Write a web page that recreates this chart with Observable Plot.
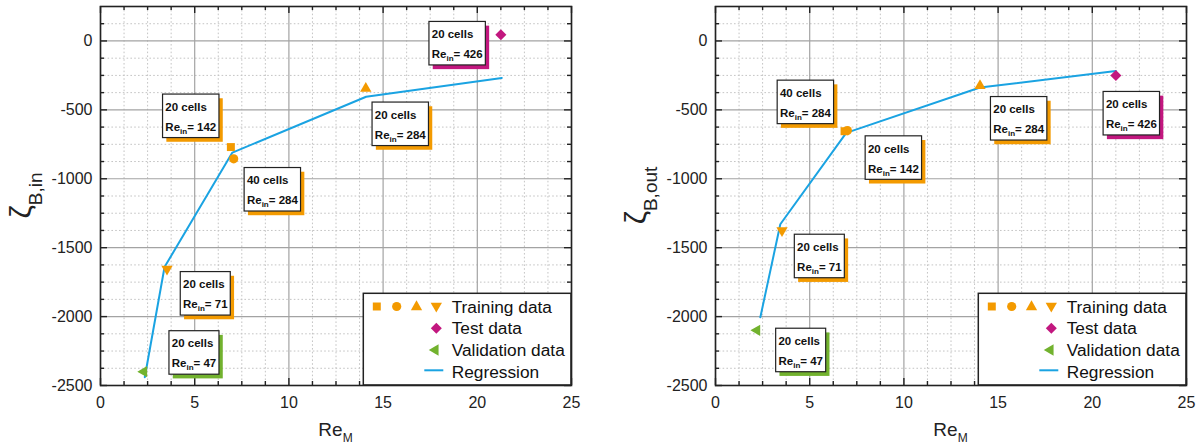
<!DOCTYPE html>
<html><head><meta charset="utf-8">
<script src="https://cdn.jsdelivr.net/npm/d3@7"></script>
<script src="https://cdn.jsdelivr.net/npm/@observablehq/plot@0.6"></script>
<style>
html,body{margin:0;padding:0;background:#fff;}
#wrap{display:flex;width:1203px;height:446px;overflow:hidden;}
#wrap svg{display:block;flex:none;}
</style></head><body><div id="wrap"></div>
<script>
// ---------- data ----------
const xTicks = [0, 5, 10, 15, 20, 25];
const yTicks = [-2500, -2000, -1500, -1000, -500, 0];
const legendLabels = ["Training data", "Test data", "Validation data", "Regression"];
const trainShape = ["square", "circle", "up", "down"];

// zeta_B,in
const trainReM_in = [6.92, 7.07, 14.08, 3.53];
const trainZeta_in = [-770, -855, -345, -1655];
const testReM_in = [21.25];
const testZeta_in = [45];
const validReM_in = [2.3];
const validZeta_in = [-2400];
const regReM_in = [2.35, 3.4, 7.0, 14.1, 21.3];
const regZeta_in = [-2440, -1640, -810, -405, -268];
const noteCells_in = [20, 40, 20, 20, 20, 20];
const noteRe_in = [142, 284, 71, 47, 284, 426];
const noteKind_in = ["train", "train", "train", "valid", "train", "test"];
const noteReM_in = [3.32, 7.65, 4.26, 3.66, 14.44, 17.46];
const noteZeta_in = [-389, -922, -1677, -2106, -447, 138];

// zeta_B,out
const trainReM_out = [6.85, 7.0, 14.04, 3.53];
const trainZeta_out = [-655, -650, -325, -1375];
const testReM_out = [21.25];
const testZeta_out = [-250];
const validReM_out = [2.2];
const validZeta_out = [-2100];
const regReM_out = [2.38, 3.44, 6.94, 14.04, 21.25];
const regZeta_out = [-2005, -1330, -667, -338, -218];
const noteCells_out = [40, 20, 20, 20, 20, 20];
const noteRe_out = [284, 142, 71, 47, 284, 426];
const noteKind_out = ["train", "train", "train", "valid", "train", "test"];
const noteReM_out = [3.30, 7.97, 4.21, 3.22, 14.62, 20.6];
const noteZeta_out = [-288, -692, -1406, -2088, -407, -370];

// ---------- styles ----------
const COL = {train: "#f39a00", test: "#c2177f", valid: "#72b22e", reg: "#1aa3e2"};
const FONT = "'Liberation Sans', Arial, sans-serif";
const sqrt3 = Math.sqrt(3);
const SYM = {
  square: d3.symbolSquare,
  circle: d3.symbolCircle,
  up: d3.symbolTriangle,
  down: {draw(c, s) { const y = -Math.sqrt(s / (sqrt3 * 3)); c.moveTo(0, -2 * y); c.lineTo(-sqrt3 * y, y); c.lineTo(sqrt3 * y, y); c.closePath(); }},
  left: {draw(c, s) { const y = -Math.sqrt(s / (sqrt3 * 3)); c.moveTo(2 * y, 0); c.lineTo(-y, sqrt3 * y); c.lineTo(-y, -sqrt3 * y); c.closePath(); }},
  diamond: {draw(c, s) { const d = Math.sqrt(s / 2); c.moveTo(0, -d); c.lineTo(d, 0); c.lineTo(0, d); c.lineTo(-d, 0); c.closePath(); }}
};
const RAD = {square: 4.5, circle: 4.6, up: 4.2, down: 4.2, left: 4.2, diamond: 4.4};

const measureCtx = document.createElement("canvas").getContext("2d");
function tw(text, size) { measureCtx.font = `bold ${size}px 'Liberation Sans'`; return measureCtx.measureText(text).width; }

function notesMark(xs, ys, cells, res, kinds) {
  return (index, scales) => {
    const g = d3.create("svg:g").attr("font-family", FONT).attr("font-weight", "bold")
      .attr("fill", "#111").attr("text-anchor", "start");
    xs.forEach((xv, i) => {
      const px = scales.x(xv), py = scales.y(ys[i]);
      const l1 = `${cells[i]} cells`, l2b = `= ${res[i]}`;
      const w = Math.max(tw(l1, 11.5), tw("Re", 11.5) + tw("in", 8) + tw(l2b, 11.5)) + 5.5;
      const h = 43.5;
      g.append("rect").attr("x", px + 3.8).attr("y", py + 4.2).attr("width", w).attr("height", h).attr("fill", COL[kinds[i]]);
      g.append("rect").attr("x", px).attr("y", py).attr("width", w).attr("height", h)
        .attr("fill", "#fff").attr("stroke", "#222").attr("stroke-width", 1.2);
      g.append("text").attr("x", px + 2.8).attr("y", py + 16.7).attr("font-size", 11.5).text(l1);
      const t = g.append("text").attr("x", px + 2.8).attr("y", py + 36.7).attr("font-size", 11.5);
      t.append("tspan").text("Re");
      t.append("tspan").attr("font-size", 8).attr("dy", 3).text("in");
      t.append("tspan").attr("dy", -3).text(l2b);
    });
    return g.node();
  };
}

function legendMark(index, scales, values, dim) {
  const {width, height, marginRight, marginBottom} = dim;
  const lw = 207.7, lh = 91.7;
  const x0 = width - marginRight - lw, y0 = height - marginBottom - lh;
  const g = d3.create("svg:g").attr("transform", `translate(${x0},${y0})`).attr("text-anchor", "start");
  g.append("rect").attr("width", lw).attr("height", lh).attr("fill", "#fff").attr("stroke", "#222").attr("stroke-width", 1.5);
  const sym = (type, x, y, fill) => g.append("path")
    .attr("d", d3.symbol(SYM[type], RAD[type] * RAD[type] * Math.PI)())
    .attr("transform", `translate(${x},${y})`).attr("fill", fill);
  sym("square", 13.5, 13.2, COL.train);
  sym("circle", 33.4, 13.2, COL.train);
  sym("up", 53.2, 13.6, COL.train);
  sym("down", 73, 12.6, COL.train);
  sym("diamond", 73, 35, COL.test);
  sym("left", 72, 56.7, COL.valid);
  g.append("line").attr("x1", 61).attr("x2", 80).attr("y1", 77).attr("y2", 77).attr("stroke", COL.reg).attr("stroke-width", 2);
  const base = [19.4, 41.2, 63, 85];
  legendLabels.forEach((lab, i) => g.append("text").attr("x", 88.4).attr("y", base[i])
    .attr("font-family", FONT).attr("font-size", 17.3).attr("fill", "#111").text(lab));
  return g.node();
}

function labelsMark(sub) {
  return (index, scales, values, dim) => {
    const {width, height, marginLeft, marginRight, marginTop, marginBottom} = dim;
    const g = d3.create("svg:g").attr("font-family", FONT).attr("fill", "#222");
    const cx = marginLeft + (width - marginLeft - marginRight) / 2;
    const t = g.append("text").attr("x", cx).attr("y", 435.7).attr("text-anchor", "middle");
    t.append("tspan").attr("font-size", 19).text("Re");
    t.append("tspan").attr("font-size", 12).attr("dy", 6).text("M");
    const cy = marginTop + (height - marginTop - marginBottom) / 2;
    const ty = g.append("text").attr("transform", `translate(${marginLeft - 69},${cy}) rotate(-90)`).attr("text-anchor", "middle");
    ty.append("tspan").attr("font-size", 30).text("ζ");
    ty.append("tspan").attr("font-size", 19).attr("dy", 11).text(sub);
    return g.node();
  };
}

function panel(o) {
  const H = 446, mt = 6, mb = 61;
  const innerW = o.width - o.ml - o.mr, innerH = H - mt - mb;
  const minorX = d3.range(0, 25.001, 1.25).filter(v => v % 5 !== 0);
  const minorY = d3.range(-2500, 249, 125).filter(v => v % 500 !== 0);
  const train = o.trainX.map((x, i) => ({x, y: o.trainY[i], shape: trainShape[i]}));
  const reg = o.regX.map((x, i) => ({x, y: o.regY[i]}));
  const test = o.testX.map((x, i) => ({x, y: o.testY[i]}));
  const valid = o.validX.map((x, i) => ({x, y: o.validY[i]}));
  const tk = {stroke: "#222", strokeWidth: 1.4};
  return Plot.plot({
    width: o.width, height: H,
    marginLeft: o.ml, marginRight: o.mr, marginTop: mt, marginBottom: mb,
    x: {domain: [0, 25]},
    y: {domain: [-2500, 250]},
    style: {fontFamily: FONT, fontSize: "16px", color: "#222", background: "#fff", overflow: "visible"},
    marks: [
      Plot.gridX(minorX, {stroke: "#c4c4c4", strokeOpacity: 1, strokeDasharray: "1.6,2.2"}),
      Plot.gridY(minorY, {stroke: "#c4c4c4", strokeOpacity: 1, strokeDasharray: "1.6,2.2"}),
      Plot.gridX(xTicks, {stroke: "#a3a3a3", strokeOpacity: 1, strokeWidth: 1.2}),
      Plot.gridY(yTicks, {stroke: "#a3a3a3", strokeOpacity: 1, strokeWidth: 1.2}),
      Plot.axisX(xTicks, {tickSize: 0, tickPadding: 11, label: null, fill: "#222", tickFormat: d => String(d)}),
      Plot.axisY(yTicks, {tickSize: 0, tickPadding: 8, label: null, fill: "#222", tickFormat: d => String(d)}),
      Plot.ruleX(xTicks, {...tk, insetTop: innerH - 7}),
      Plot.ruleX(xTicks, {...tk, insetBottom: innerH - 7}),
      Plot.ruleX(minorX, {...tk, insetTop: innerH - 4}),
      Plot.ruleX(minorX, {...tk, insetBottom: innerH - 4}),
      Plot.ruleY(yTicks, {...tk, insetRight: innerW - 7}),
      Plot.ruleY(yTicks, {...tk, insetLeft: innerW - 7}),
      Plot.ruleY(minorY, {...tk, insetRight: innerW - 4}),
      Plot.ruleY(minorY, {...tk, insetLeft: innerW - 4}),
      Plot.line(reg, {x: "x", y: "y", stroke: COL.reg, strokeWidth: 2}),
      ...trainShape.map(s => Plot.dot(train.filter(d => d.shape === s), {x: "x", y: "y", symbol: SYM[s], r: RAD[s], fill: COL.train})),
      Plot.dot(test, {x: "x", y: "y", symbol: SYM.diamond, r: RAD.diamond, fill: COL.test}),
      Plot.dot(valid, {x: "x", y: "y", symbol: SYM.left, r: RAD.left, fill: COL.valid}),
      notesMark(o.noteX, o.noteY, o.cells, o.re, o.kind),
      legendMark,
      labelsMark(o.sub),
      Plot.frame({stroke: "#222", strokeWidth: 1.6})
    ]
  });
}

const wrap = document.getElementById("wrap");
wrap.appendChild(panel({
  width: 600, ml: 100, mr: 29, sub: "B,in",
  trainX: trainReM_in, trainY: trainZeta_in, testX: testReM_in, testY: testZeta_in,
  validX: validReM_in, validY: validZeta_in, regX: regReM_in, regY: regZeta_in,
  noteX: noteReM_in, noteY: noteZeta_in, cells: noteCells_in, re: noteRe_in, kind: noteKind_in
}));
wrap.appendChild(panel({
  width: 603, ml: 115, mr: 17, sub: "B,out",
  trainX: trainReM_out, trainY: trainZeta_out, testX: testReM_out, testY: testZeta_out,
  validX: validReM_out, validY: validZeta_out, regX: regReM_out, regY: regZeta_out,
  noteX: noteReM_out, noteY: noteZeta_out, cells: noteCells_out, re: noteRe_out, kind: noteKind_out
}));
</script></body></html>
